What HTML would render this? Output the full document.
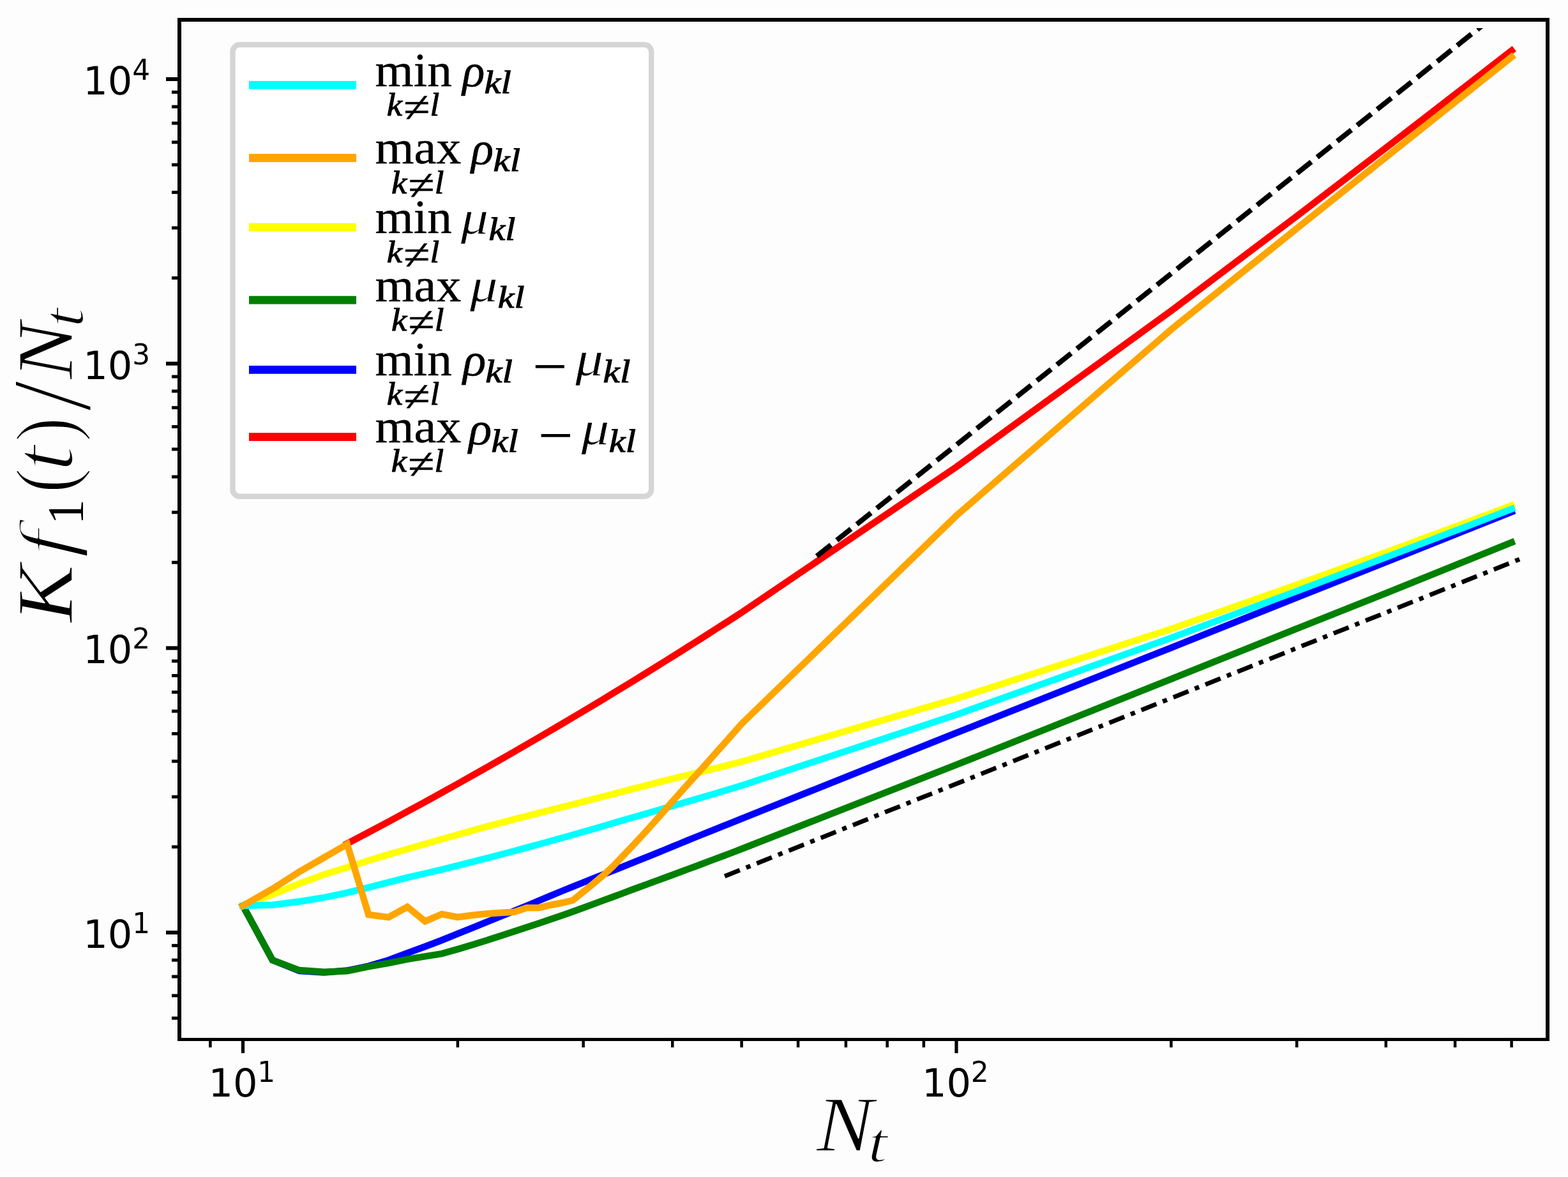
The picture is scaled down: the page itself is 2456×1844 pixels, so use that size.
<!DOCTYPE html>
<html lang="en"><head><meta charset="utf-8"><title>K f1(t)/Nt versus Nt</title>
<style>html,body{margin:0;padding:0;background:#fdfdfd}svg{display:block}.tk{font-family:"DejaVu Sans","Liberation Sans",sans-serif;fill:#000}.rm{font-family:"Liberation Serif","DejaVu Serif",serif;fill:#000}.it{font-family:"Liberation Serif","DejaVu Serif",serif;font-style:italic;fill:#000}</style></head><body>
<svg width="2456" height="1844" viewBox="0 0 2456 1844">
<rect x="0" y="0" width="2456" height="1844" fill="#fdfdfd"/>
<defs><clipPath id="ax"><rect x="284" y="44" width="2137" height="1582"/></clipPath></defs>
<g fill="none" stroke-linejoin="miter" stroke-miterlimit="10" stroke-linecap="square" stroke-width="10.5" clip-path="url(#ax)">
<path d="M380.5,1419.1 L426.8,1401.5 L469.0,1384.3 L507.8,1370.0 L543.8,1358.9 L577.3,1348.3 L608.6,1338.9 L638.0,1330.3 L665.8,1322.2 L692.0,1314.7 L716.9,1307.7 L740.6,1301.1 L763.2,1294.9 L784.7,1289.1 L805.4,1283.7 L825.2,1278.6 L844.2,1273.7 L862.5,1269.1 L880.2,1264.7 L897.2,1260.3 L913.7,1256.1 L929.6,1252.0 L945.0,1248.0 L959.9,1244.1 L974.4,1240.3 L988.5,1236.7 L1002.2,1233.2 L1015.5,1229.8 L1028.4,1226.4 L1041.0,1223.2 L1053.3,1220.1 L1065.3,1217.1 L1077.0,1214.3 L1088.4,1211.6 L1099.6,1208.9 L1110.5,1206.2 L1121.1,1203.6 L1131.6,1201.0 L1141.8,1198.4 L1151.8,1195.9 L1161.6,1193.4 L1498.0,1094.6 L1834.4,985.4 L2031.2,916.2 L2170.8,865.4 L2279.1,825.2 L2367.6,791.9" stroke="#ffff00"/>
<path d="M380.5,1419.1 L426.8,1504.2 L469.0,1521.1 L507.8,1523.5 L543.8,1520.6 L577.3,1513.6 L608.6,1504.2 L638.0,1493.1 L665.8,1483.0 L692.0,1473.0 L716.9,1462.9 L740.6,1453.4 L763.2,1444.2 L784.7,1435.5 L805.4,1427.2 L825.2,1419.0 L844.2,1411.0 L862.5,1403.3 L880.2,1396.0 L897.2,1389.1 L913.7,1382.5 L929.6,1376.2 L945.0,1370.0 L959.9,1364.1 L974.4,1358.3 L988.5,1352.7 L1002.2,1347.2 L1015.5,1341.9 L1028.4,1336.6 L1041.0,1331.5 L1053.3,1326.4 L1065.3,1321.5 L1077.0,1316.7 L1088.4,1312.0 L1099.6,1307.5 L1110.5,1303.1 L1121.1,1298.9 L1131.6,1294.7 L1141.8,1290.6 L1151.8,1286.6 L1161.6,1282.6 L1498.0,1148.2 L1834.4,1014.8 L2031.2,936.2 L2170.8,880.5 L2279.1,837.3 L2367.6,802.0" stroke="#0000ff"/>
<path d="M543.8,1321.7 L577.3,1304.0 L608.6,1287.3 L638.0,1271.4 L665.8,1256.3 L692.0,1241.8 L716.9,1228.0 L740.6,1214.7 L763.2,1201.9 L784.7,1189.6 L805.4,1177.8 L825.2,1166.3 L844.2,1155.3 L862.5,1144.5 L880.2,1134.1 L897.2,1124.0 L913.7,1114.2 L929.6,1104.7 L945.0,1095.4 L959.9,1086.3 L974.4,1077.5 L988.5,1068.9 L1002.2,1060.5 L1015.5,1052.3 L1028.4,1044.2 L1041.0,1036.4 L1053.3,1028.7 L1065.3,1021.2 L1077.0,1013.8 L1088.4,1006.6 L1099.6,999.5 L1110.5,992.5 L1121.1,985.7 L1131.6,979.0 L1141.8,972.5 L1151.8,966.0 L1161.6,959.6 L1498.0,731.5 L1834.4,486.9 L2031.2,338.6 L2170.8,231.7 L2279.1,148.0 L2367.6,79.3" stroke="#ff0000"/>
<path d="M380.5,1419.0 L426.8,1504.3 L469.0,1520.1 L507.8,1522.8 L543.8,1521.3 L577.3,1514.4 L608.6,1508.9 L638.0,1502.8 L665.8,1498.4 L692.0,1494.1 L716.9,1487.1 L740.6,1479.9 L763.2,1472.9 L784.7,1466.0 L805.4,1459.2 L825.2,1452.7 L844.2,1446.4 L862.5,1440.2 L880.2,1434.2 L897.2,1428.2 L913.7,1422.3 L929.6,1416.4 L945.0,1410.7 L959.9,1405.2 L974.4,1399.8 L988.5,1394.5 L1002.2,1389.5 L1015.5,1384.6 L1028.4,1379.8 L1041.0,1375.2 L1053.3,1370.7 L1065.3,1366.3 L1077.0,1361.9 L1088.4,1357.7 L1099.6,1353.5 L1110.5,1349.4 L1121.1,1345.4 L1131.6,1341.5 L1141.8,1337.6 L1151.8,1333.8 L1161.6,1330.0 L1498.0,1198.2 L1834.4,1063.9 L2031.2,984.9 L2170.8,929.3 L2279.1,885.6 L2367.6,849.9" stroke="#008000"/>
<path d="M380.5,1419.1 L426.8,1417.8 L469.0,1412.5 L507.8,1406.1 L543.8,1398.7 L577.3,1390.4 L608.6,1382.3 L638.0,1374.9 L665.8,1368.5 L692.0,1362.3 L716.9,1356.2 L740.6,1350.2 L763.2,1344.4 L784.7,1338.7 L805.4,1333.2 L825.2,1327.9 L844.2,1322.7 L862.5,1317.7 L880.2,1312.7 L897.2,1308.0 L913.7,1303.3 L929.6,1298.7 L945.0,1294.2 L959.9,1289.8 L974.4,1285.6 L988.5,1281.5 L1002.2,1277.6 L1015.5,1273.7 L1028.4,1270.0 L1041.0,1266.3 L1053.3,1262.8 L1065.3,1259.3 L1077.0,1255.9 L1088.4,1252.6 L1099.6,1249.3 L1110.5,1246.1 L1121.1,1243.0 L1131.6,1239.8 L1141.8,1236.8 L1151.8,1233.8 L1161.6,1230.8 L1498.0,1119.7 L1834.4,999.4 L2031.2,926.2 L2170.8,873.2 L2279.1,831.7 L2367.6,797.5" stroke="#00ffff"/>
<path d="M380.5,1419.0 L426.8,1392.6 L469.0,1365.8 L507.8,1343.4 L543.8,1322.5 L577.3,1433.0 L608.6,1437.1 L638.0,1420.8 L665.8,1443.4 L692.0,1432.1 L716.9,1436.9 L740.6,1433.8 L763.2,1431.6 L784.7,1429.9 L805.4,1428.8 L825.2,1422.2 L844.2,1422.2 L862.5,1418.0 L880.2,1414.5 L897.2,1410.5 L913.7,1397.2 L929.6,1384.2 L945.0,1371.4 L959.9,1357.5 L974.4,1342.3 L988.5,1327.6 L1002.2,1313.0 L1015.5,1298.5 L1028.4,1284.1 L1041.0,1269.7 L1053.3,1255.6 L1065.3,1242.1 L1077.0,1229.1 L1088.4,1216.4 L1099.6,1204.0 L1110.5,1191.8 L1121.1,1179.8 L1131.6,1168.1 L1141.8,1156.5 L1151.8,1145.2 L1161.6,1134.1 L1498.0,807.9 L1834.4,516.2 L2031.2,357.9 L2170.8,246.3 L2279.1,160.0 L2367.6,89.5" stroke="#ffa500"/>
</g>
<g fill="none" stroke="#000" stroke-linecap="butt" clip-path="url(#ax)">
<path d="M1279.3,871.4 L2340.0,25.38567999999998" stroke-width="8" stroke-dasharray="28.5 11.6"/>
<path d="M1135.1,1372.7 L2380.3,876.1017879999999" stroke-width="7" stroke-dasharray="25.5 10.67 7.2 10.67"/>
</g>
<g fill="#000">
<rect x="269" y="1592.66" width="12" height="5"/>
<rect x="269" y="1557.37" width="12" height="5"/>
<rect x="269" y="1527.54" width="12" height="5"/>
<rect x="269" y="1501.69" width="12" height="5"/>
<rect x="269" y="1478.89" width="12" height="5"/>
<rect x="260" y="1458.00" width="21" height="6"/>
<rect x="269" y="1324.34" width="12" height="5"/>
<rect x="269" y="1245.86" width="12" height="5"/>
<rect x="269" y="1190.18" width="12" height="5"/>
<rect x="269" y="1146.99" width="12" height="5"/>
<rect x="269" y="1111.70" width="12" height="5"/>
<rect x="269" y="1081.87" width="12" height="5"/>
<rect x="269" y="1056.02" width="12" height="5"/>
<rect x="269" y="1033.22" width="12" height="5"/>
<rect x="260" y="1012.33" width="21" height="6"/>
<rect x="269" y="878.67" width="12" height="5"/>
<rect x="269" y="800.19" width="12" height="5"/>
<rect x="269" y="744.51" width="12" height="5"/>
<rect x="269" y="701.32" width="12" height="5"/>
<rect x="269" y="666.03" width="12" height="5"/>
<rect x="269" y="636.20" width="12" height="5"/>
<rect x="269" y="610.35" width="12" height="5"/>
<rect x="269" y="587.55" width="12" height="5"/>
<rect x="260" y="566.66" width="21" height="6"/>
<rect x="269" y="433.00" width="12" height="5"/>
<rect x="269" y="354.52" width="12" height="5"/>
<rect x="269" y="298.84" width="12" height="5"/>
<rect x="269" y="255.65" width="12" height="5"/>
<rect x="269" y="220.36" width="12" height="5"/>
<rect x="269" y="190.53" width="12" height="5"/>
<rect x="269" y="164.68" width="12" height="5"/>
<rect x="269" y="141.88" width="12" height="5"/>
<rect x="260" y="120.99" width="21" height="6"/>
<rect x="327.12" y="1628" width="4.5" height="13"/>
<rect x="377.90" y="1628" width="5.2" height="22"/>
<rect x="714.65" y="1628" width="4.5" height="13"/>
<rect x="911.43" y="1628" width="4.5" height="13"/>
<rect x="1051.05" y="1628" width="4.5" height="13"/>
<rect x="1159.35" y="1628" width="4.5" height="13"/>
<rect x="1247.83" y="1628" width="4.5" height="13"/>
<rect x="1322.65" y="1628" width="4.5" height="13"/>
<rect x="1387.45" y="1628" width="4.5" height="13"/>
<rect x="1444.62" y="1628" width="4.5" height="13"/>
<rect x="1495.40" y="1628" width="5.2" height="22"/>
<rect x="1832.15" y="1628" width="4.5" height="13"/>
<rect x="2028.93" y="1628" width="4.5" height="13"/>
<rect x="2168.55" y="1628" width="4.5" height="13"/>
<rect x="2276.85" y="1628" width="4.5" height="13"/>
<rect x="2365.33" y="1628" width="4.5" height="13"/>
<rect x="278" y="28" width="6" height="1603"/>
<rect x="2421" y="28" width="6" height="1603"/>
<rect x="278" y="28" width="2149" height="6"/>
<rect x="278" y="1626" width="2149" height="5"/>
</g>
<text class="tk" x="130.3" y="1485.0" font-size="60.6">10</text><text class="tk" x="207.2" y="1462.0" font-size="43.8">1</text>
<text class="tk" x="130.3" y="1039.3" font-size="60.6">10</text><text class="tk" x="207.2" y="1016.3" font-size="43.8">2</text>
<text class="tk" x="130.3" y="593.7" font-size="60.6">10</text><text class="tk" x="207.2" y="570.7" font-size="43.8">3</text>
<text class="tk" x="130.3" y="148.0" font-size="60.6">10</text><text class="tk" x="207.2" y="125.0" font-size="43.8">4</text>
<text class="tk" x="326.5" y="1717.9" font-size="60.6">10</text><text class="tk" x="403.2" y="1695.2" font-size="43.8">1</text>
<text class="tk" x="1444.0" y="1717.9" font-size="60.6">10</text><text class="tk" x="1520.7" y="1695.2" font-size="43.8">2</text>
<rect x="364.5" y="70" width="655.7" height="707.8" rx="11" ry="11" fill="#fff" fill-opacity="0.8" stroke="#d5d5d5" stroke-width="8.4"/>
<rect x="390" y="126.90" width="168" height="12.8" fill="#00ffff"/>
<rect x="390" y="241.10" width="168" height="12.8" fill="#ffa500"/>
<rect x="390" y="349.60" width="168" height="12.8" fill="#ffff00"/>
<rect x="390" y="463.70" width="168" height="12.8" fill="#008000"/>
<rect x="390" y="572.90" width="168" height="12.8" fill="#0000ff"/>
<rect x="390" y="678.10" width="168" height="12.8" fill="#ff0000"/>
<text class="rm" transform="translate(587.61,135.30) scale(1.0397,1)" font-size="74.29" stroke="#000" stroke-width="0.5" stroke-linejoin="round">min</text>
<text class="it" transform="translate(605.75,181.40) scale(1.0882,1)" font-size="50.43" stroke="#000" stroke-width="1.0" stroke-linejoin="round">k</text>
<text class="it" transform="translate(631.32,191.11) scale(1.1164,1)" font-size="68.0" stroke="#000" stroke-width="0.4" stroke-linejoin="round">≠</text>
<text class="it" transform="translate(673.59,181.40) scale(1.0509,1)" font-size="50.43" stroke="#000" stroke-width="1.0" stroke-linejoin="round">l</text>
<text class="it" transform="translate(724.33,135.30) scale(1.0159,1)" font-size="71.91" stroke="#000" stroke-width="0.6" stroke-linejoin="round">ρ</text>
<text class="it" transform="translate(758.54,145.90) scale(1.1664,1)" font-size="50.29" stroke="#000" stroke-width="1.0" stroke-linejoin="round">kl</text>
<text class="rm" transform="translate(587.58,256.00) scale(1.0554,1)" font-size="74.29" stroke="#000" stroke-width="0.5" stroke-linejoin="round">max</text>
<text class="it" transform="translate(612.95,302.80) scale(1.0882,1)" font-size="50.43" stroke="#000" stroke-width="1.0" stroke-linejoin="round">k</text>
<text class="it" transform="translate(638.52,312.51) scale(1.1164,1)" font-size="68.0" stroke="#000" stroke-width="0.4" stroke-linejoin="round">≠</text>
<text class="it" transform="translate(680.79,302.80) scale(1.0509,1)" font-size="50.43" stroke="#000" stroke-width="1.0" stroke-linejoin="round">l</text>
<text class="it" transform="translate(738.03,256.75) scale(1.0264,1)" font-size="71.18" stroke="#000" stroke-width="0.6" stroke-linejoin="round">ρ</text>
<text class="it" transform="translate(772.53,267.50) scale(1.1557,1)" font-size="51.01" stroke="#000" stroke-width="1.0" stroke-linejoin="round">kl</text>
<text class="rm" transform="translate(587.61,365.30) scale(1.0397,1)" font-size="74.29" stroke="#000" stroke-width="0.5" stroke-linejoin="round">min</text>
<text class="it" transform="translate(605.75,411.40) scale(1.1138,1)" font-size="49.28" stroke="#000" stroke-width="1.0" stroke-linejoin="round">k</text>
<text class="it" transform="translate(631.32,421.91) scale(1.1164,1)" font-size="68.0" stroke="#000" stroke-width="0.4" stroke-linejoin="round">≠</text>
<text class="it" transform="translate(673.59,411.40) scale(1.0756,1)" font-size="49.28" stroke="#000" stroke-width="1.0" stroke-linejoin="round">l</text>
<text class="it" transform="translate(721.85,365.66) scale(1.1787,1)" font-size="73.28" stroke="#fefefe" stroke-width="0.7" stroke-linejoin="round">μ</text>
<text class="it" transform="translate(765.45,376.00) scale(1.1710,1)" font-size="49.71" stroke="#000" stroke-width="1.0" stroke-linejoin="round">kl</text>
<text class="rm" transform="translate(587.58,471.80) scale(1.0554,1)" font-size="74.29" stroke="#000" stroke-width="0.5" stroke-linejoin="round">max</text>
<text class="it" transform="translate(612.95,517.80) scale(1.1009,1)" font-size="49.86" stroke="#000" stroke-width="1.0" stroke-linejoin="round">k</text>
<text class="it" transform="translate(638.52,527.91) scale(1.1164,1)" font-size="68.0" stroke="#000" stroke-width="0.4" stroke-linejoin="round">≠</text>
<text class="it" transform="translate(680.79,517.80) scale(1.0631,1)" font-size="49.86" stroke="#000" stroke-width="1.0" stroke-linejoin="round">l</text>
<text class="it" transform="translate(735.95,472.16) scale(1.1846,1)" font-size="73.28" stroke="#fefefe" stroke-width="0.7" stroke-linejoin="round">μ</text>
<text class="it" transform="translate(779.66,482.40) scale(1.1783,1)" font-size="49.28" stroke="#000" stroke-width="1.0" stroke-linejoin="round">kl</text>
<text class="rm" transform="translate(587.61,588.00) scale(1.0397,1)" font-size="74.29" stroke="#000" stroke-width="0.5" stroke-linejoin="round">min</text>
<text class="it" transform="translate(605.85,634.00) scale(1.1041,1)" font-size="49.71" stroke="#000" stroke-width="1.0" stroke-linejoin="round">k</text>
<text class="it" transform="translate(631.42,644.21) scale(1.1164,1)" font-size="68.0" stroke="#000" stroke-width="0.4" stroke-linejoin="round">≠</text>
<text class="it" transform="translate(673.74,634.00) scale(1.0461,1)" font-size="49.71" stroke="#000" stroke-width="1.0" stroke-linejoin="round">l</text>
<text class="it" transform="translate(724.89,588.24) scale(1.0404,1)" font-size="72.65" stroke="#000" stroke-width="0.6" stroke-linejoin="round">ρ</text>
<text class="it" transform="translate(760.22,599.40) scale(1.1648,1)" font-size="50.87" stroke="#000" stroke-width="1.0" stroke-linejoin="round">kl</text>
<text class="rm" transform="translate(834.26,605.26) scale(1.0519,1)" font-size="92.0">−</text>
<text class="it" transform="translate(901.35,588.35) scale(1.1625,1)" font-size="75.22" stroke="#fefefe" stroke-width="0.7" stroke-linejoin="round">μ</text>
<text class="it" transform="translate(944.62,599.40) scale(1.1678,1)" font-size="50.87" stroke="#000" stroke-width="1.0" stroke-linejoin="round">kl</text>
<text class="rm" transform="translate(587.58,693.00) scale(1.0554,1)" font-size="74.29" stroke="#000" stroke-width="0.5" stroke-linejoin="round">max</text>
<text class="it" transform="translate(612.75,739.30) scale(1.1041,1)" font-size="49.71" stroke="#000" stroke-width="1.0" stroke-linejoin="round">k</text>
<text class="it" transform="translate(638.32,749.51) scale(1.1164,1)" font-size="68.0" stroke="#000" stroke-width="0.4" stroke-linejoin="round">≠</text>
<text class="it" transform="translate(680.59,739.30) scale(1.0662,1)" font-size="49.71" stroke="#000" stroke-width="1.0" stroke-linejoin="round">l</text>
<text class="it" transform="translate(733.99,696.21) scale(1.0411,1)" font-size="72.79" stroke="#000" stroke-width="0.6" stroke-linejoin="round">ρ</text>
<text class="it" transform="translate(769.44,707.50) scale(1.1465,1)" font-size="51.16" stroke="#000" stroke-width="1.0" stroke-linejoin="round">kl</text>
<text class="rm" transform="translate(843.03,712.96) scale(1.0589,1)" font-size="92.0">−</text>
<text class="it" transform="translate(910.55,696.38) scale(1.1648,1)" font-size="75.07" stroke="#fefefe" stroke-width="0.7" stroke-linejoin="round">μ</text>
<text class="it" transform="translate(953.84,707.50) scale(1.1465,1)" font-size="51.16" stroke="#000" stroke-width="1.0" stroke-linejoin="round">kl</text>
<text class="it" transform="translate(1278.77,1802.70) scale(1.0819,1)" font-size="123.85" stroke="#fdfdfd" stroke-width="1.6" stroke-linejoin="round">N</text>
<text class="it" transform="translate(1359.06,1820.21) scale(1.2518,1)" font-size="89.47" stroke="#fdfdfd" stroke-width="2.0" stroke-linejoin="round">t</text>
<text class="it" transform="translate(112.90,975.34) rotate(-90) scale(1.0932,1)" font-size="124.0" stroke="#fdfdfd" stroke-width="1.6" stroke-linejoin="round">K</text>
<text class="it" transform="translate(112.67,875.37) rotate(-90) scale(1.3683,1)" font-size="118.47" stroke="#fdfdfd" stroke-width="3.5" stroke-linejoin="round">f</text>
<text class="rm" transform="translate(130.00,821.95) rotate(-90) scale(0.9986,1)" font-size="79.54">1</text>
<text class="rm" transform="translate(114.68,772.59) rotate(-90) scale(0.8913,1)" font-size="132.0" stroke="#fdfdfd" stroke-width="2.8" stroke-linejoin="round">(</text>
<text class="it" transform="translate(114.29,739.54) rotate(-90) scale(1.1268,1)" font-size="135.96" stroke="#fdfdfd" stroke-width="3.5" stroke-linejoin="round">t</text>
<text class="rm" transform="translate(114.68,691.72) rotate(-90) scale(0.8625,1)" font-size="132.0" stroke="#fdfdfd" stroke-width="2.8" stroke-linejoin="round">)</text>
<text class="rm" transform="translate(140.71,644.80) rotate(-90) scale(0.9835,1)" font-size="178.95" stroke="#fdfdfd" stroke-width="3.0" stroke-linejoin="round">/</text>
<text class="it" transform="translate(113.10,594.23) rotate(-90) scale(1.0779,1)" font-size="124.31" stroke="#fdfdfd" stroke-width="1.6" stroke-linejoin="round">N</text>
<text class="it" transform="translate(130.30,513.01) rotate(-90) scale(1.2110,1)" font-size="90.18" stroke="#fdfdfd" stroke-width="2.0" stroke-linejoin="round">t</text>
</svg></body></html>
